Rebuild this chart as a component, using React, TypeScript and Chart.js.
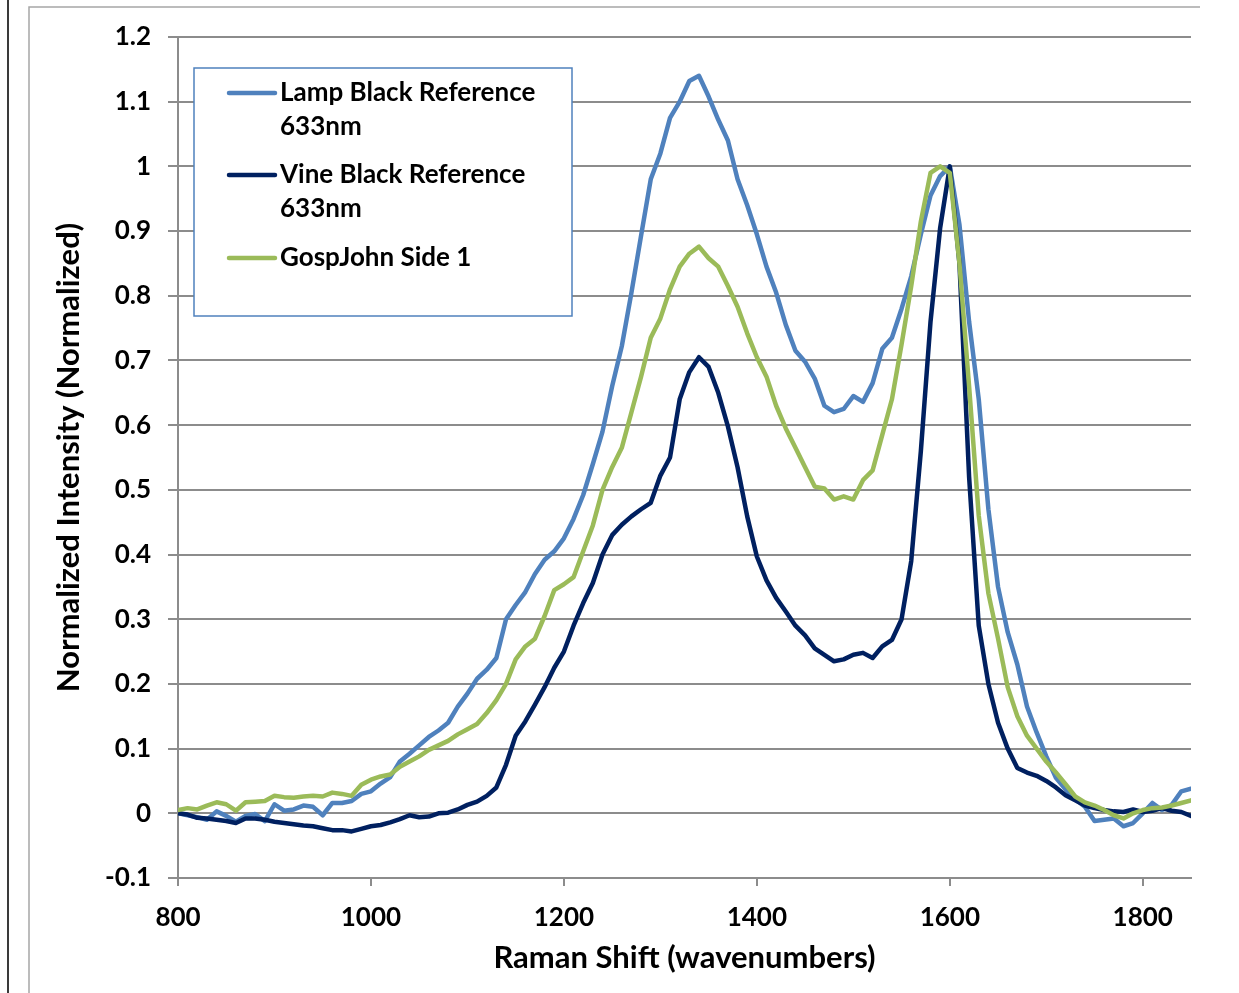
import React, { useEffect, useRef } from 'react';
import { Chart, registerables } from 'chart.js';

Chart.register(...registerables);

const ramanShift = [
  800, 810, 820, 830, 840, 850, 860, 870, 880, 890,
  900, 910, 920, 930, 940, 950, 960, 970, 980, 990,
  1000, 1010, 1020, 1030, 1040, 1050, 1060, 1070, 1080, 1090,
  1100, 1110, 1120, 1130, 1140, 1150, 1160, 1170, 1180, 1190,
  1200, 1210, 1220, 1230, 1240, 1250, 1260, 1270, 1280, 1290,
  1300, 1310, 1320, 1330, 1340, 1350, 1360, 1370, 1380, 1390,
  1400, 1410, 1420, 1430, 1440, 1450, 1460, 1470, 1480, 1490,
  1500, 1510, 1520, 1530, 1540, 1550, 1560, 1570, 1580, 1590,
  1600, 1610, 1620, 1630, 1640, 1650, 1660, 1670, 1680, 1690,
  1700, 1710, 1720, 1730, 1740, 1750, 1760, 1770, 1780, 1790,
  1800, 1810, 1820, 1830, 1840, 1850,
];

const lampBlack = [
  0.000, -0.003, -0.006, -0.010, 0.003, -0.004, -0.013, -0.004, -0.001, -0.012,
  0.014, 0.004, 0.006, 0.012, 0.010, -0.003, 0.016, 0.016, 0.019, 0.030,
  0.034, 0.046, 0.056, 0.080, 0.092, 0.105, 0.118, 0.128, 0.140, 0.165,
  0.185, 0.208, 0.222, 0.240, 0.300, 0.322, 0.342, 0.370, 0.392, 0.405,
  0.425, 0.455, 0.492, 0.540, 0.590, 0.660, 0.722, 0.805, 0.893, 0.980,
  1.020, 1.075, 1.100, 1.132, 1.140, 1.108, 1.072, 1.040, 0.980, 0.940,
  0.895, 0.845, 0.805, 0.755, 0.715, 0.698, 0.672, 0.630, 0.620, 0.625,
  0.645, 0.636, 0.665, 0.718, 0.735, 0.780, 0.830, 0.895, 0.955, 0.985,
  1.000, 0.910, 0.760, 0.640, 0.470, 0.350, 0.280, 0.230, 0.165, 0.125,
  0.088, 0.055, 0.037, 0.022, 0.010, -0.012, -0.010, -0.008, -0.020, -0.015,
  0.000, 0.016, 0.005, 0.013, 0.034, 0.038,
];

const vineBlack = [
  0.000, -0.002, -0.007, -0.008, -0.010, -0.012, -0.015, -0.008, -0.008, -0.010,
  -0.013, -0.015, -0.017, -0.019, -0.020, -0.023, -0.026, -0.026, -0.028, -0.024,
  -0.020, -0.018, -0.014, -0.009, -0.003, -0.006, -0.005, 0.000, 0.001, 0.006,
  0.013, 0.018, 0.027, 0.040, 0.075, 0.120, 0.142, 0.168, 0.195, 0.225,
  0.250, 0.290, 0.325, 0.356, 0.400, 0.430, 0.446, 0.459, 0.470, 0.480,
  0.522, 0.550, 0.640, 0.682, 0.705, 0.690, 0.650, 0.598, 0.535, 0.459,
  0.397, 0.360, 0.333, 0.312, 0.290, 0.275, 0.255, 0.245, 0.235, 0.238,
  0.245, 0.248, 0.240, 0.258, 0.268, 0.300, 0.390, 0.560, 0.760, 0.905,
  1.000, 0.850, 0.520, 0.290, 0.200, 0.140, 0.100, 0.070, 0.063, 0.058,
  0.050, 0.040, 0.028, 0.020, 0.012, 0.008, 0.005, 0.003, 0.002, 0.006,
  0.002, 0.004, 0.008, 0.004, 0.002, -0.004,
];

const gospJohn = [
  0.005, 0.008, 0.006, 0.012, 0.017, 0.014, 0.004, 0.017, 0.018, 0.019,
  0.027, 0.025, 0.024, 0.026, 0.027, 0.026, 0.032, 0.030, 0.027, 0.044,
  0.052, 0.057, 0.060, 0.072, 0.080, 0.088, 0.098, 0.105, 0.112, 0.122,
  0.130, 0.138, 0.155, 0.175, 0.200, 0.238, 0.258, 0.270, 0.305, 0.345,
  0.354, 0.365, 0.405, 0.445, 0.500, 0.535, 0.565, 0.620, 0.675, 0.735,
  0.765, 0.810, 0.845, 0.865, 0.876, 0.858, 0.845, 0.815, 0.783, 0.742,
  0.705, 0.675, 0.630, 0.595, 0.565, 0.535, 0.505, 0.502, 0.485, 0.490,
  0.485, 0.515, 0.530, 0.585, 0.640, 0.725, 0.815, 0.915, 0.990, 1.000,
  0.990, 0.850, 0.660, 0.460, 0.340, 0.270, 0.195, 0.150, 0.120, 0.100,
  0.080, 0.063, 0.045, 0.026, 0.017, 0.012, 0.005, -0.003, -0.008, 0.000,
  0.005, 0.008, 0.009, 0.012, 0.016, 0.020,
];

const seriesLegendLines = [
  ['Lamp Black Reference', '633nm'],
  ['Vine Black Reference', '633nm'],
  ['GospJohn Side 1'],
];
const seriesColors = ['#4F81BD', '#002060', '#9BBB59'];

const xTickValues = [800, 1000, 1200, 1400, 1600, 1800];
const xTickLabels = ['800', '1000', '1200', '1400', '1600', '1800'];
const yTickValues = [-0.1, 0, 0.1, 0.2, 0.3, 0.4, 0.5, 0.6, 0.7, 0.8, 0.9, 1, 1.1, 1.2];
const yTickLabels = ['-0.1', '0', '0.1', '0.2', '0.3', '0.4', '0.5', '0.6', '0.7', '0.8', '0.9', '1', '1.1', '1.2'];

const xTitle = 'Raman Shift (wavenumbers)';
const yTitle = 'Normalized Intensity (Normalized)';

const FONT = 'Lato';
const GRID = '#8c8c8c';

const framePlugin = {
  id: 'frame',
  beforeDraw(chart: any) {
    const ctx = chart.ctx;
    ctx.save();
    ctx.fillStyle = '#ffffff';
    ctx.fillRect(0, 0, chart.width, chart.height);
    ctx.strokeStyle = '#3a3a3a';
    ctx.lineWidth = 2;
    ctx.beginPath();
    ctx.moveTo(8, 0);
    ctx.lineTo(8, chart.height);
    ctx.stroke();
    ctx.strokeStyle = '#a6a6a6';
    ctx.lineWidth = 1.5;
    ctx.beginPath();
    ctx.moveTo(29, chart.height);
    ctx.lineTo(29, 7);
    ctx.lineTo(1200, 7);
    ctx.stroke();
    ctx.restore();
  },
};

const legendPlugin = {
  id: 'boxLegend',
  afterDraw(chart: any) {
    const ctx = chart.ctx;
    ctx.save();
    const bx = 194, by = 68, bw = 378, bh = 248;
    ctx.fillStyle = '#ffffff';
    ctx.fillRect(bx, by, bw, bh);
    ctx.strokeStyle = '#4F81BD';
    ctx.lineWidth = 1.5;
    ctx.strokeRect(bx, by, bw, bh);
    const entryY = [93, 175, 258];
    ctx.font = `bold 26px ${FONT}`;
    ctx.textBaseline = 'middle';
    ctx.textAlign = 'left';
    chart.data.datasets.forEach((ds: any, i: number) => {
      const y = entryY[i];
      ctx.strokeStyle = ds.borderColor;
      ctx.lineWidth = 4.5;
      ctx.lineCap = 'round';
      ctx.beginPath();
      ctx.moveTo(229, y);
      ctx.lineTo(275, y);
      ctx.stroke();
      ctx.fillStyle = '#000000';
      seriesLegendLines[i].forEach((line, j) => {
        ctx.fillText(line, 280, y + j * 34);
      });
    });
    ctx.restore();
  },
};

export default function App() {
  const ref = useRef<HTMLCanvasElement>(null);

  useEffect(() => {
    if (!ref.current) return;
    const series = [lampBlack, vineBlack, gospJohn];
    const chart = new Chart(ref.current, {
      type: 'line',
      data: {
        datasets: series.map((vals, i) => ({
          label: seriesLegendLines[i].join(' '),
          data: ramanShift.map((x, k) => ({ x, y: vals[k] })),
          borderColor: seriesColors[i],
          backgroundColor: seriesColors[i],
          borderWidth: 4.5,
          pointRadius: 0,
          tension: 0,
          fill: false,
          borderJoinStyle: 'round',
          borderCapStyle: 'round',
          order: 2 - i,
        })),
      },
      options: {
        responsive: false,
        animation: false,
        devicePixelRatio: 1,
        layout: { padding: { left: 0, top: 37, right: 48, bottom: 0 } },
        plugins: {
          legend: { display: false },
          tooltip: { enabled: false },
        },
        scales: {
          x: {
            type: 'linear',
            min: 800,
            max: 1850,
            afterBuildTicks: (axis: any) => {
              axis.ticks = xTickValues.map((v) => ({ value: v }));
            },
            afterFit: (axis: any) => {
              axis.height = 115;
            },
            ticks: {
              autoSkip: false,
              maxRotation: 0,
              padding: 16,
              color: '#000',
              font: { family: FONT, weight: 'bold', size: 26 },
              callback: (_v: any, i: number) => xTickLabels[i],
            },
            grid: { drawOnChartArea: false, drawTicks: true, tickLength: 8, color: GRID, lineWidth: 2 },
            border: { color: GRID, width: 2 },
            title: {
              display: true,
              text: xTitle,
              color: '#000',
              font: { family: FONT, weight: 'bold', size: 31 },
              padding: { top: 0, bottom: 16 },
            },
          },
          y: {
            type: 'linear',
            min: -0.1,
            max: 1.2,
            afterBuildTicks: (axis: any) => {
              axis.ticks = yTickValues.map((v) => ({ value: v }));
            },
            afterFit: (axis: any) => {
              axis.width = 178;
            },
            ticks: {
              autoSkip: false,
              padding: 17,
              color: '#000',
              font: { family: FONT, weight: 'bold', size: 26 },
              callback: (_v: any, i: number) => yTickLabels[i],
            },
            grid: { color: GRID, lineWidth: 2, drawTicks: true, tickLength: 10 },
            border: { color: GRID, width: 2 },
            title: {
              display: true,
              text: yTitle,
              color: '#000',
              font: { family: FONT, weight: 'bold', size: 31 },
              padding: { top: 50, bottom: 0 },
            },
          },
        },
      } as any,
      plugins: [framePlugin, legendPlugin],
    });
    return () => chart.destroy();
  }, []);

  return (
    <div style={{ position: 'absolute', left: 0, top: 0, width: 1239, height: 993 }}>
      <canvas ref={ref} width={1239} height={993} style={{ display: 'block' }} />
    </div>
  );
}
